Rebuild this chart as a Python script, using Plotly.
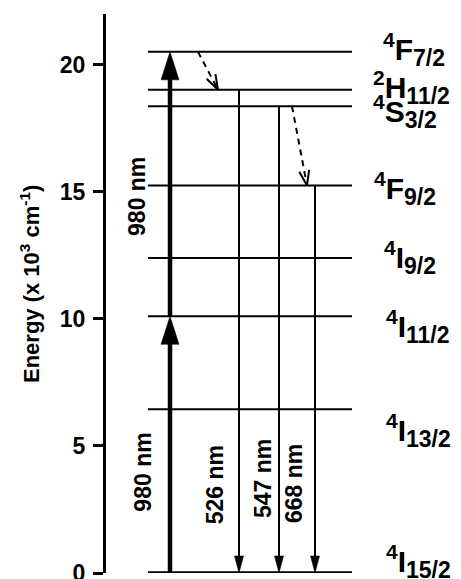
import plotly.graph_objects as go
import math

# ---------------- data (energies in 10^3 cm^-1) ----------------
level_letters = ["I", "I", "I", "I", "F", "S", "H", "F"]
level_mult = ["4", "4", "4", "4", "4", "4", "2", "4"]
level_j = ["15/2", "13/2", "11/2", "9/2", "9/2", "3/2", "11/2", "7/2"]
level_energy = [0.0, 6.44, 10.1, 12.4, 15.25, 18.37, 19.02, 20.51]

# pump (980 nm) steps: from level index -> to level index
pump_from = [0, 2]
pump_to = [2, 7]
pump_labels = ["980 nm", "980 nm"]

# radiative emissions
emit_from = [6, 5, 4]
emit_to = [0, 0, 0]
emit_labels = ["526 nm", "547 nm", "668 nm"]

# non-radiative relaxations
nr_from = [7, 5]
nr_to = [6, 4]

y_ticks = [0, 5, 10, 15, 20]

# ---------------- layout constants ----------------
W, H = 461, 579
ML, MR, MT, MB = 106, 0, 14, 6
X_RANGE = [ML, W - MR]          # x in screen-like units
Y_RANGE = [0, 22]
PX_PER_Y = (H - MT - MB) / (Y_RANGE[1] - Y_RANGE[0])

LEVEL_X = [148, 352]
PUMP_X = [170, 170]
EMIT_X = [239, 279, 315]
NR_X0 = [198, 292]
NR_X1 = [218, 307]
FONT = "Liberation Sans, Arial, sans-serif"


def head_pts(x0, y0, x1, y1, length, width):
    """triangle/chevron points of an arrowhead at (x1, y1), computed in pixel space"""
    p0 = (x0, y0 * PX_PER_Y)
    p1 = (x1, y1 * PX_PER_Y)
    dx, dy = p1[0] - p0[0], p1[1] - p0[1]
    d = math.hypot(dx, dy)
    ux, uy = dx / d, dy / d
    nx, ny = -uy, ux
    bx, by = p1[0] - ux * length, p1[1] - uy * length
    left = (bx + nx * width / 2, by + ny * width / 2)
    right = (bx - nx * width / 2, by - ny * width / 2)
    pts = [left, p1, right]
    return [p[0] for p in pts], [p[1] / PX_PER_Y for p in pts], (bx, by / PX_PER_Y)


fig = go.Figure()

# energy levels
for i, e in enumerate(level_energy):
    fig.add_trace(go.Scatter(x=LEVEL_X, y=[e, e], mode="lines",
                             line=dict(color="black", width=3.6 if i == 0 else 2),
                             hoverinfo="skip", showlegend=False))


def arrow(x0, y0, x1, y1, lw, hl, hw):
    hx, hy, base = head_pts(x0, y0, x1, y1, hl, hw)
    my = base[1] + (y1 - base[1]) * 0.4
    fig.add_trace(go.Scatter(x=[x0, x0], y=[y0, my], mode="lines",
                             line=dict(color="black", width=lw),
                             hoverinfo="skip", showlegend=False))
    fig.add_trace(go.Scatter(x=hx + [hx[0]], y=hy + [hy[0]], mode="lines", fill="toself",
                             fillcolor="black", line=dict(color="black", width=0.5),
                             hoverinfo="skip", showlegend=False))


# pump arrows
for k in range(len(pump_from)):
    arrow(PUMP_X[k], level_energy[pump_from[k]], PUMP_X[k], level_energy[pump_to[k]], 4.5, 28, 18)

# emission arrows
for k in range(len(emit_from)):
    arrow(EMIT_X[k], level_energy[emit_from[k]], EMIT_X[k], level_energy[emit_to[k]], 2, 17, 9)

# non-radiative dashed arrows
for k in range(len(nr_from)):
    y0, y1 = level_energy[nr_from[k]], level_energy[nr_to[k]]
    fig.add_trace(go.Scatter(x=[NR_X0[k], NR_X1[k]], y=[y0, y1], mode="lines",
                             line=dict(color="black", width=2, dash="6px,5px"),
                             hoverinfo="skip", showlegend=False))
    hx, hy, _ = head_pts(NR_X0[k], y0, NR_X1[k], y1, 15, 10)
    fig.add_trace(go.Scatter(x=hx, y=hy, mode="lines",
                             line=dict(color="black", width=2),
                             hoverinfo="skip", showlegend=False))

annotations = []
# pump labels
PUMP_LABEL_POS = [(143, 3.95), (137, 14.8)]
for k in range(len(pump_labels)):
    annotations.append(dict(x=PUMP_LABEL_POS[k][0], y=PUMP_LABEL_POS[k][1], xref="x", yref="y",
                            text="<b>%s</b>" % pump_labels[k], textangle=-90, showarrow=False,
                            font=dict(family=FONT, size=23, color="black")))
EMIT_LABEL_POS = [(215, 3.45), (263, 3.7), (294, 3.5)]
for k in range(len(emit_labels)):
    annotations.append(dict(x=EMIT_LABEL_POS[k][0], y=EMIT_LABEL_POS[k][1], xref="x", yref="y",
                            text="<b>%s</b>" % emit_labels[k], textangle=-90, showarrow=False,
                            font=dict(family=FONT, size=23, color="black")))

# term symbol labels
LABEL_X = [384, 384, 384, 382, 372, 371, 371, 381]
LABEL_Y = [0.45, 5.6, 9.7, 12.4, 15.15, 18.15, 19.1, 20.6]
for i in range(len(level_letters)):
    txt = ("<b><sup>%s</sup>%s<sub><span style='font-size:23px'>%s</span></sub></b>"
           % (level_mult[i], level_letters[i], level_j[i]))
    annotations.append(dict(x=LABEL_X[i], y=LABEL_Y[i], xref="x", yref="y", xanchor="left",
                            yanchor="middle", text=txt, showarrow=False,
                            font=dict(family=FONT, size=30, color="black")))

# axis title
annotations.append(dict(x=(30 - ML) / (W - ML - MR), y=(573 - 284) / PX_PER_Y, xref="paper", yref="y",
                        xanchor="center", yanchor="middle",
                        text="<b>Energy (x 10<sup>3</sup> cm<sup>-1</sup>)</b>", textangle=-90,
                        showarrow=False, font=dict(family=FONT, size=22, color="black")))

fig.update_layout(
    width=W, height=H,
    margin=dict(l=ML, r=MR, t=MT, b=MB, pad=0, autoexpand=False),
    paper_bgcolor="white", plot_bgcolor="white",
    showlegend=False,
    xaxis=dict(range=X_RANGE, visible=False, fixedrange=True, automargin=False),
    yaxis=dict(range=Y_RANGE, tickvals=y_ticks, ticks="outside", ticklen=10, tickwidth=2.5,
               tickcolor="black", showline=True, linecolor="black", linewidth=3,
               showgrid=False, zeroline=False, ticklabeloverflow="allow",
               ticklabelstandoff=3, automargin=False,
               tickfont=dict(family=FONT, size=23, color="black", weight="bold")),
    annotations=annotations,
)

fig.write_html("out.html", config={"displayModeBar": False},
               post_script="document.body.style.margin='0';document.body.style.overflow='hidden';")
